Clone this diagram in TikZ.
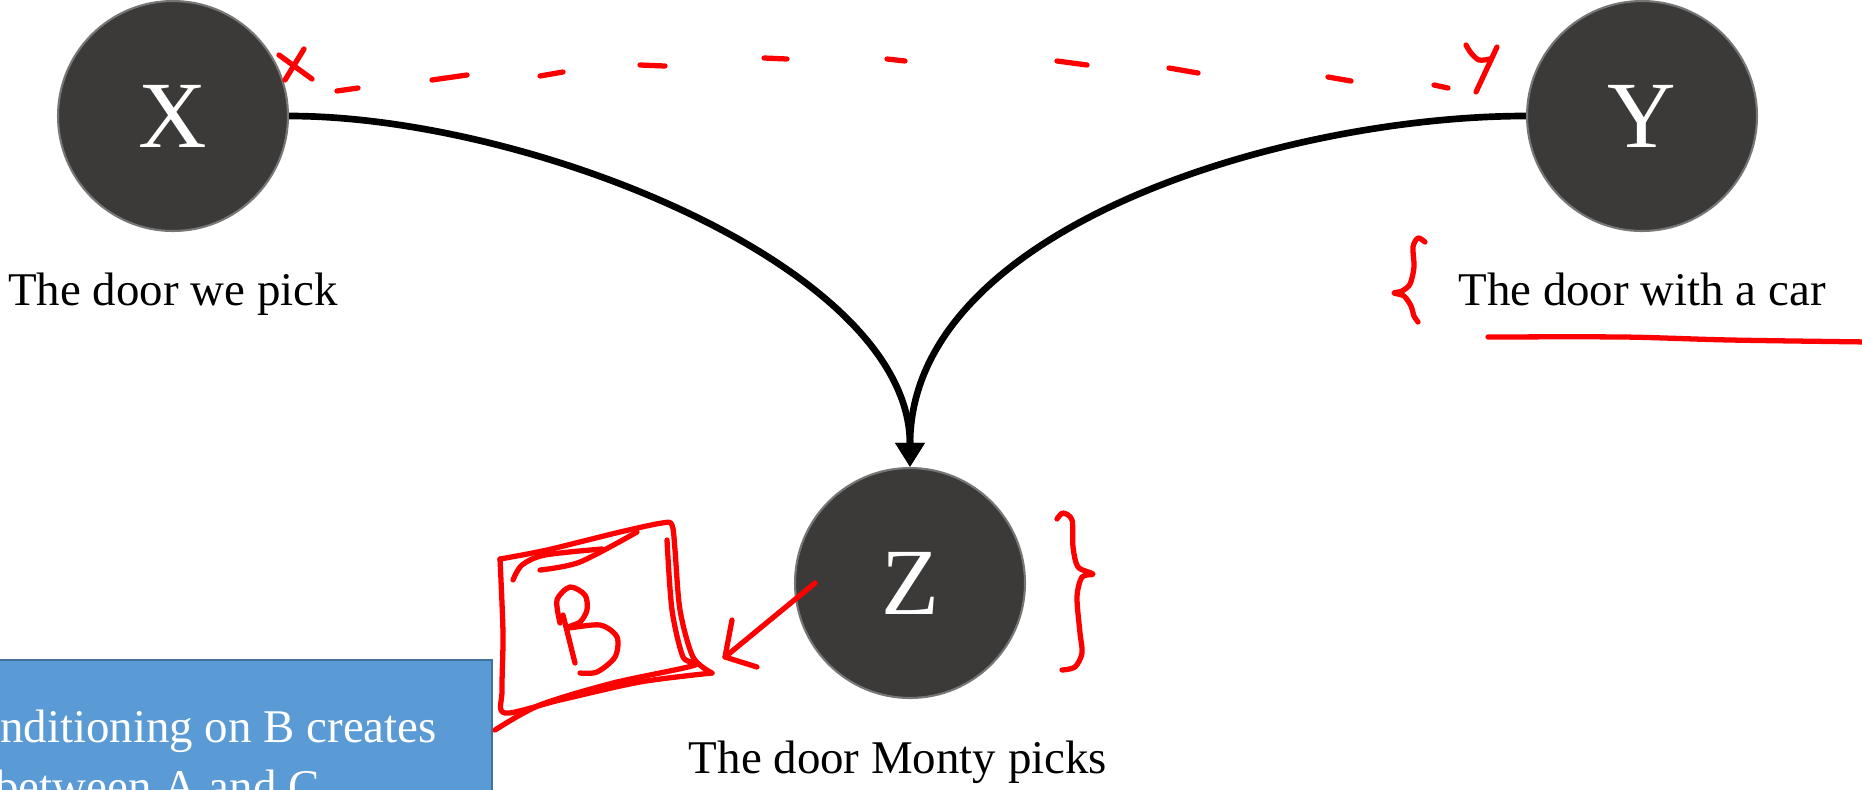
\documentclass[tikz,border=0pt]{standalone}
\usepackage{fontspec}
\setmainfont{Liberation Serif}
\usetikzlibrary{arrows.meta,positioning,calc}
\definecolor{doorfill}{RGB}{59,58,57}
\definecolor{doorrim}{RGB}{118,118,118}
\definecolor{notefill}{RGB}{91,155,213}
\definecolor{noteedge}{RGB}{65,113,156}
\definecolor{penred}{RGB}{255,0,0}

\begin{document}
\begin{tikzpicture}[
  x=0.02cm, y=-0.02cm,
  door/.style={circle, draw=doorrim, line width=1.2pt, fill=doorfill,
               minimum size=4.6cm, inner sep=0pt, text=white,
               font=\fontsize{54}{60}\selectfont},
  doorlabel/.style={inner sep=0pt, font=\fontsize{26.7}{32}\selectfont},
  arr/.style={-{Triangle[length=0.48cm,width=0.56cm]}, line width=3.8pt},
  pen/.style={penred, line width=3pt, line cap=round, line join=round},
  notebox/.style={draw=noteedge, line width=1.2pt, fill=notefill,
               minimum width=12cm, minimum height=4cm},
  notetext/.style={inner sep=0pt, text=white, font=\fontsize{26.7}{32}\selectfont}
]
\useasboundingbox (0,0) rectangle (1862,789);
\clip (0,0) rectangle (1862,789);

% the three doors
\node[door] (X) at (173,116) {X};
\node[door] (Y) at (1642,116) {Y};
\node[door] (Z) at (910,583) {Z};
\node[doorlabel, below=0.82cm of X] (xlab) {The door we pick};
\node[doorlabel, below=0.82cm of Y] (ylab) {The door with a car};
\node[doorlabel, below=0.84cm of Z, xshift=-0.24cm] (zlab) {The door Monty picks};

\draw[arr] (X.east) .. controls +(240,0) and +(0,-200) .. (Z.north);
\draw[arr] (Y.west) .. controls +(-240,0) and +(0,-240) .. (Z.north);

% note box, cut by the page edge
\node[notebox, anchor=north east] (cond) at (493,659) {};
\node[notetext, anchor=base west] (cond1) at (0,742) {nditioning on B creates};
\node[notetext, anchor=base west] (cond2) at (-5,802) {between A and C};

% pen marks
\foreach \ax/\ay/\bx/\by in {337/91/358/88, 432/80/467/75, 540/76/563/72,
    640/65/665/66, 764/58/787/59, 887/59/905/61, 1057/61/1087/65,
    1169/68/1198/73, 1328/77/1351/81, 1434/85/1448/88}
  \draw[pen] (\ax,\ay) -- (\bx,\by);
\draw[pen] (279,55) -- (312,79);
\draw[pen] (304,49) -- (285,80);
\draw[pen] plot[smooth] coordinates {(1466,45) (1471,53) (1479,60) (1490,59)};
\draw[pen] (1497,47) -- (1476,92);

\draw[pen] plot[smooth] coordinates {(1425,242) (1418,238) (1413,247) (1414,267)
  (1410,284) (1402,291) (1394,293) (1404,296) (1411,306) (1414,316) (1418,322)};
\draw[pen] plot[smooth] coordinates {(1488,337) (1623,337) (1730,340) (1870,342)};

\draw[pen] plot[smooth] coordinates {(1057,519) (1063,513) (1072,520) (1073,547)
  (1078,567) (1093,574) (1082,577) (1077,597) (1080,633) (1082,653) (1075,667) (1062,670)};

% boxed B
\draw[pen] plot[smooth] coordinates {(500,559) (503,633) (502,690) (505,713)
  (560,700) (640,682) (712,673)};
\draw[pen] plot[smooth] coordinates {(712,673) (693,657) (680,610) (675,550) (672,525)
  (662,523) (620,532) (547,550) (500,559)};
\draw[pen] plot[smooth] coordinates {(667,540) (672,610) (683,657) (695,665)
  (613,683) (540,705) (495,730)};
\draw[pen] plot[smooth] coordinates {(513,580) (522,565) (545,555) (602,549)};
\draw[pen] plot[smooth] coordinates {(540,570) (580,562) (637,532)};
\draw[pen] (563,615) -- (575,663);
\draw[pen] plot[smooth] coordinates {(560,623) (557,600) (570,587) (585,595) (587,610)
  (580,622) (567,628) (600,625) (617,637) (615,657) (597,672) (580,673)};

\coordinate (bnote) at (725,657);
\draw[pen] ($(Z.center)+(-95,0)$) -- (bnote);
\draw[pen] (732,620) -- (bnote) -- (757,667);
\end{tikzpicture}
\end{document}
